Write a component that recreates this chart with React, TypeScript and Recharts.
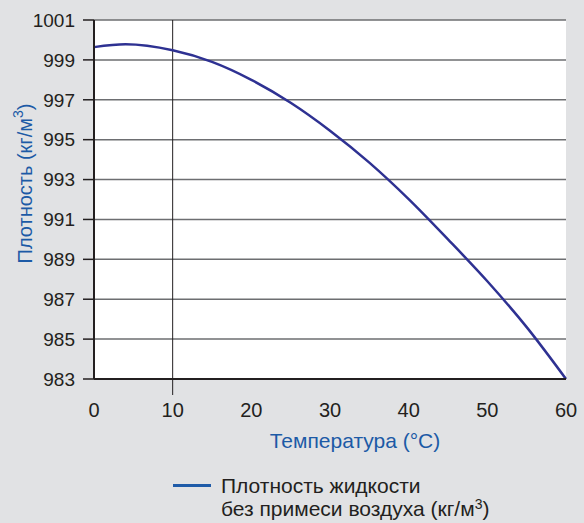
import React from 'react';
import {
  LineChart, Line, XAxis, YAxis, CartesianGrid, ReferenceLine,
} from 'recharts';

// Water density (kg/m3) vs temperature (°C)
const temperatures = [0, 4, 10, 15, 20, 25, 30, 35, 40, 45, 50, 55, 60];
const densities = [999.64, 999.78, 999.48, 998.9, 998.0, 996.85, 995.45, 993.85, 992.02, 990.0, 987.9, 985.6, 983.0];
const xTicks = [0, 10, 20, 30, 40, 50, 60];
const yTicks = [983, 985, 987, 989, 991, 993, 995, 997, 999, 1001];

const data = temperatures.map((t, i) => ({ t, density: densities[i] }));

const FONT = '"Liberation Sans", Arial, Helvetica, sans-serif';
const TEXT = '#231f20';
const BLUE = '#1c5aa6';
const CURVE = '#2e3192';
const GRID = '#6d6e71';

function XTick(props: any) {
  const { x, y, payload } = props;
  return (
    <g>
      {payload.value === 10 && <line x1={x} y1={y} x2={x} y2={y + 16} stroke={TEXT} strokeWidth={1} />}
      <text x={x} y={y + 38} textAnchor="middle" fill={TEXT} fontSize={20} fontFamily={FONT}>
        {payload.value}
      </text>
    </g>
  );
}

function YLabel(props: any) {
  const { viewBox } = props;
  const cx = viewBox.x + 25;
  const cy = viewBox.y + viewBox.height / 2 - 16;
  return (
    <text x={cx} y={cy} transform={`rotate(-90 ${cx} ${cy})`} textAnchor="middle" dominantBaseline="central"
      fill={BLUE} fontSize={20} fontFamily={FONT}>
      Плотность (кг/м<tspan fontSize={14} dy={-7}>3</tspan><tspan dy={7}>)</tspan>
    </text>
  );
}

function XLabel(props: any) {
  const { viewBox } = props;
  const cx = viewBox.x + viewBox.width / 2 + 25;
  return (
    <text x={cx} y={viewBox.y + 69} textAnchor="middle" fill={BLUE} fontSize={21} fontFamily={FONT}>
      Температура (°C)
    </text>
  );
}

function LegendBox() {
  return (
    <div style={{ position: 'absolute', left: 173, top: 474, display: 'flex', alignItems: 'flex-start',
      fontFamily: FONT, fontSize: 21, color: TEXT, lineHeight: '23px' }}>
      <div style={{ width: 38, height: 3, background: '#1f5ba8', marginTop: 10, marginRight: 10 }} />
      <div>
        Плотность жидкости<br />без примеси воздуха (кг/м<sup style={{ fontSize: 14, lineHeight: 0, verticalAlign: 7 }}>3</sup>)
      </div>
    </div>
  );
}

export default function App() {
  return (
    <div style={{ position: 'absolute', left: 0, top: 0, width: 584, height: 523, background: '#e1e2e4' }}>
      <LineChart width={584} height={523} data={data} margin={{ top: 20, right: 18, left: 0, bottom: 84 }}>
        <CartesianGrid vertical={false} stroke={GRID} strokeWidth={1.5} fill="#ffffff" />
        <ReferenceLine x={10} stroke={TEXT} strokeWidth={1} />
        <XAxis dataKey="t" type="number" domain={[0, 60]} ticks={xTicks} height={60}
          axisLine={{ stroke: TEXT, strokeWidth: 2 }} tickLine={false} tickSize={0} tickMargin={0}
          tick={<XTick />} label={<XLabel />} />
        <XAxis xAxisId="top" orientation="top" dataKey="t" type="number" domain={[0, 60]} height={0}
          axisLine={{ stroke: TEXT, strokeWidth: 2 }} tick={false} tickLine={false} />
        <YAxis type="number" domain={[983, 1001]} ticks={yTicks} width={94} interval={0}
          axisLine={{ stroke: TEXT, strokeWidth: 2 }} tickLine={{ stroke: TEXT, strokeWidth: 1.5 }}
          tickSize={11} tickMargin={8}
          tick={{ fill: TEXT, fontSize: 19, fontFamily: FONT }} label={<YLabel />} />
        <YAxis yAxisId="right" orientation="right" type="number" domain={[983, 1001]} width={0}
          axisLine={{ stroke: TEXT, strokeWidth: 2 }} tick={false} tickLine={false} />
        <Line type="monotone" dataKey="density" stroke={CURVE} strokeWidth={2.5} dot={false}
          isAnimationActive={false} />
      </LineChart>
      <LegendBox />
    </div>
  );
}
